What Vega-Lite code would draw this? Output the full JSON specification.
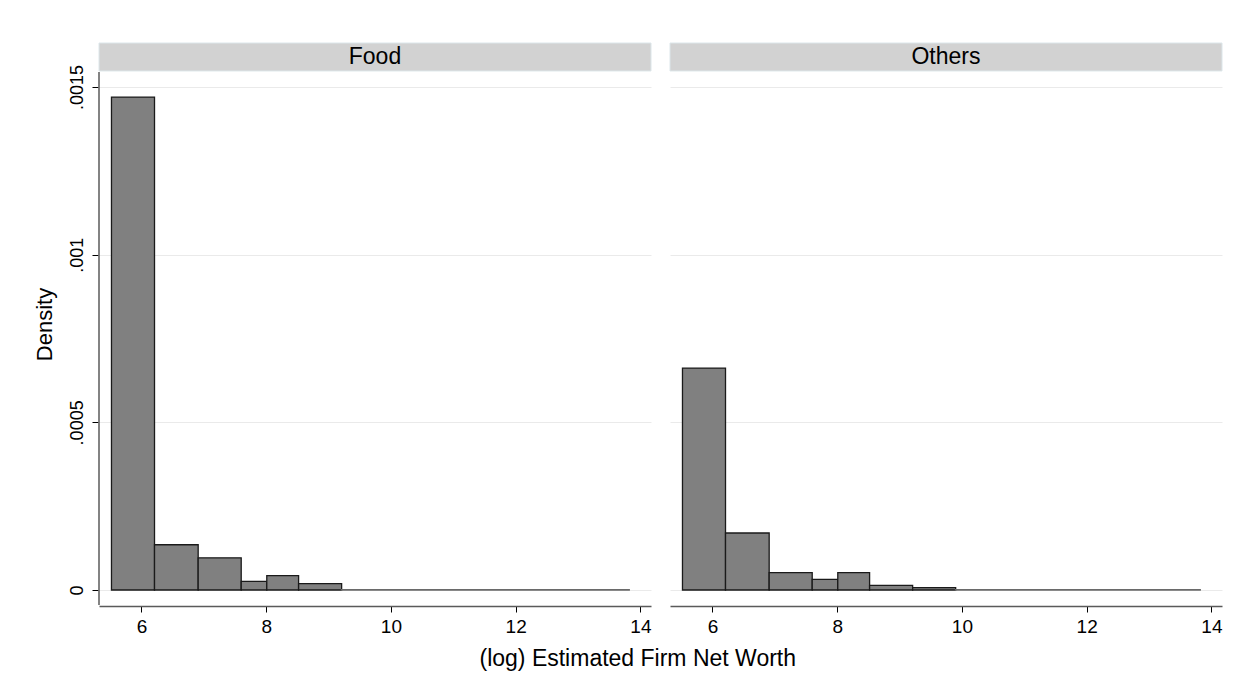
{
  "$schema": "https://vega.github.io/schema/vega-lite/v6.json",
  "padding": {"left": 33, "top": 42, "right": 20, "bottom": 10},
  "background": "white",
  "title": {"text": "(log) Estimated Firm Net Worth", "orient": "bottom", "anchor": "middle", "font": "Liberation Sans", "fontSize": 23, "fontWeight": "normal", "color": "black", "offset": 12, "dx": 10},
  "data": {"values": [
    {"panel": "Food", "kind": "bar", "x0": 5.52, "x1": 6.21, "y0": 0, "y1": 0.00147},
    {"panel": "Food", "kind": "bar", "x0": 6.21, "x1": 6.91, "y0": 0, "y1": 0.000135},
    {"panel": "Food", "kind": "bar", "x0": 6.91, "x1": 7.60, "y0": 0, "y1": 0.000096},
    {"panel": "Food", "kind": "bar", "x0": 7.60, "x1": 8.01, "y0": 0, "y1": 0.000026},
    {"panel": "Food", "kind": "bar", "x0": 8.01, "x1": 8.52, "y0": 0, "y1": 0.000043},
    {"panel": "Food", "kind": "bar", "x0": 8.52, "x1": 9.21, "y0": 0, "y1": 0.000019},
    {"panel": "Food", "kind": "tail", "x0": 9.21, "x1": 13.82, "y0": 0, "y1": 0.000001},
    {"panel": "Others", "kind": "bar", "x0": 5.52, "x1": 6.21, "y0": 0, "y1": 0.000662},
    {"panel": "Others", "kind": "bar", "x0": 6.21, "x1": 6.91, "y0": 0, "y1": 0.00017},
    {"panel": "Others", "kind": "bar", "x0": 6.91, "x1": 7.60, "y0": 0, "y1": 0.000052},
    {"panel": "Others", "kind": "bar", "x0": 7.60, "x1": 8.01, "y0": 0, "y1": 0.000032},
    {"panel": "Others", "kind": "bar", "x0": 8.01, "x1": 8.52, "y0": 0, "y1": 0.000052},
    {"panel": "Others", "kind": "bar", "x0": 8.52, "x1": 9.21, "y0": 0, "y1": 0.000014},
    {"panel": "Others", "kind": "bar", "x0": 9.21, "x1": 9.90, "y0": 0, "y1": 0.000007},
    {"panel": "Others", "kind": "tail", "x0": 9.90, "x1": 13.82, "y0": 0, "y1": 0.000001},
    {"panel": "Food", "kind": "strip", "x0": 5.32, "x1": 14.17, "y0": 0.001548, "y1": 0.0016314, "label": "Food", "xm": 9.745, "ym": 0.00159},
    {"panel": "Others", "kind": "strip", "x0": 5.32, "x1": 14.17, "y0": 0.001548, "y1": 0.0016314, "label": "Others", "xm": 9.745, "ym": 0.00159},
    {"panel": "Food", "kind": "axis", "x0": 5.32, "y0": -0.0000447, "y1": 0.001545}
  ]},
  "facet": {"column": {"field": "panel", "type": "nominal", "header": null}},
  "spacing": 17,
  "spec": {
    "width": 552,
    "height": 562,
    "encoding": {
      "x": {"type": "quantitative", "scale": {"domain": [5.32, 14.17], "nice": false, "zero": false},
        "axis": {"title": null, "values": [6, 8, 10, 12, 14], "grid": false, "tickSize": 6, "tickColor": "black", "domainColor": "#5a5a5a", "domainWidth": 1.5, "labelFont": "Liberation Sans", "labelFontSize": 19, "labelColor": "black", "labelPadding": 5}},
      "y": {"type": "quantitative", "scale": {"domain": [-0.0000447, 0.0016314], "nice": false, "zero": false},
        "axis": {"title": "Density", "values": [0, 0.0005, 0.001, 0.0015], "domain": false, "grid": true, "gridColor": "#eaeaea", "gridWidth": 1, "tickSize": 6, "tickColor": "black",
          "labelExpr": "datum.value == 0 ? '0' : substring(format(datum.value, '.4~f'), 1)", "labelAngle": -90, "labelAlign": "center", "labelBaseline": "bottom", "labelFont": "Liberation Sans", "labelFontSize": 18, "labelColor": "black", "labelPadding": 6,
          "titleFont": "Liberation Sans", "titleFontSize": 22, "titleFontWeight": "normal", "titleColor": "black", "titlePadding": 12}}
    },
    "layer": [
      {"transform": [{"filter": "datum.kind == 'strip'"}],
       "mark": {"type": "rect", "fill": "#d2d2d2", "stroke": "#dce6ea", "strokeWidth": 1},
       "encoding": {"x": {"field": "x0"}, "x2": {"field": "x1"}, "y": {"field": "y0"}, "y2": {"field": "y1"}}},
      {"transform": [{"filter": "datum.kind == 'strip'"}],
       "mark": {"type": "text", "font": "Liberation Sans", "fontSize": 23, "color": "black", "baseline": "middle", "align": "center"},
       "encoding": {"x": {"field": "xm"}, "y": {"field": "ym"}, "text": {"field": "label"}}},
      {"transform": [{"filter": "datum.kind == 'axis'"}],
       "mark": {"type": "rule", "color": "#5a5a5a", "strokeWidth": 1.5},
       "encoding": {"x": {"field": "x0"}, "y": {"field": "y0"}, "y2": {"field": "y1"}}},
      {"transform": [{"filter": "datum.kind == 'bar'"}],
       "mark": {"type": "rect", "fill": "#808080", "stroke": "#1a1a1a", "strokeWidth": 1.3},
       "encoding": {"x": {"field": "x0"}, "x2": {"field": "x1"}, "y": {"field": "y0"}, "y2": {"field": "y1"}}},
      {"transform": [{"filter": "datum.kind == 'tail'"}],
       "mark": {"type": "rect", "fill": "#6a6a6a", "stroke": "#6a6a6a", "strokeWidth": 1.5},
       "encoding": {"x": {"field": "x0"}, "x2": {"field": "x1"}, "y": {"field": "y0"}, "y2": {"field": "y1"}}}
    ]
  },
  "config": {"view": {"stroke": null}}
}
